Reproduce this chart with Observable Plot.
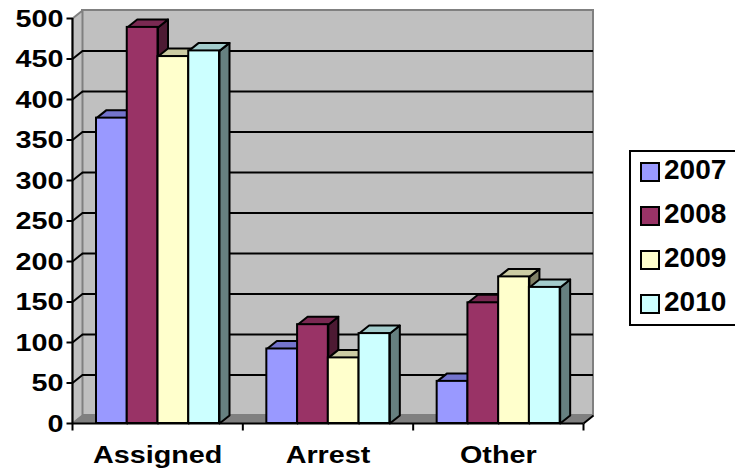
<!DOCTYPE html>
<html>
<head>
<meta charset="utf-8">
<script src="https://cdn.jsdelivr.net/npm/d3@7"></script>
<script src="https://cdn.jsdelivr.net/npm/@observablehq/plot@0.6"></script>
<style>
  html, body { margin: 0; padding: 0; background: white; overflow: hidden; }
  #wrap { position: relative; width: 735px; height: 473px; overflow: hidden; font-family: "Liberation Sans", Arial, sans-serif; }
  #legend { position: absolute; left: 629px; top: 150px; width: 140px; height: 176px; border: 2px solid black; background: white; box-sizing: border-box; }
  .item { position: absolute; left: 9px; height: 30px; }
  .sw { position: absolute; left: 0; top: 0; width: 20px; height: 20px; border: 2px solid black; box-sizing: border-box; }
  .lab { position: absolute; left: 24px; top: -9px; font-size: 28px; font-weight: bold; line-height: 34px; color: black; white-space: nowrap; }
</style>
</head>
<body>
<div id="wrap">
  <div id="chart"></div>
  <div id="legend"></div>
</div>
<script>
// ---- data ----
const categories = ["Assigned", "Arrest", "Other"];
const years = ["2007", "2008", "2009", "2010"];
const v2007 = [377, 92, 52];
const v2008 = [489, 122, 149];
const v2009 = [453, 81, 181];
const v2010 = [460, 111, 168];
const yTicks = [0, 50, 100, 150, 200, 250, 300, 350, 400, 450, 500];
const gridTicks = [50, 100, 150, 200, 250, 300, 350, 400, 450];

// ---- styles ----
const frontColors = ["#9999ff", "#993366", "#ffffcc", "#ccffff"];
const topColors   = ["#7373cc", "#7a2952", "#cccca3", "#a3cccc"];
const sideColors  = ["#4d4d80", "#4d1a33", "#808066", "#668080"];

const series = [v2007, v2008, v2009, v2010];

// ---- layout ----
const W = 735, H = 473;
const mL = 72, mR = 152, mT = 18, mB = 50;
const xMax = categories.length;
const yMax = 500;
const pxX = (W - mL - mR) / xMax;
const pxY = (H - mT - mB) / yMax;
const ox = 10 / pxX, oy = 8 / pxY;       // 3D depth offset in data units
const groupPad = 24 / pxX, barW = 30.75 / pxX;

const rows = [];
categories.forEach((c, i) => {
  years.forEach((yr, j) => {
    const x1 = i + groupPad + j * barW;
    rows.push({cat: c, year: yr, j, x1, x2: x1 + barW, v: series[j][i]});
  });
});

const poly = (pts, fill, stroke = "black", sw = 2) =>
  Plot.line(pts, {x: "x", y: "y", fill, stroke, strokeWidth: sw, curve: "linear-closed", strokeLinejoin: "round"});

const marks = [];
// back wall
marks.push(Plot.rect([{}], {x1: ox, x2: xMax + ox, y1: oy, y2: yMax + oy, fill: "#c0c0c0", stroke: "#808080", strokeWidth: 2}));
// left wall
marks.push(poly([{x: 0, y: 0}, {x: ox, y: oy}, {x: ox, y: yMax + oy}, {x: 0, y: yMax}], "#c0c0c0", "#808080", 2));
// floor
marks.push(poly([{x: 0, y: 0}, {x: xMax, y: 0}, {x: xMax + ox, y: oy}, {x: ox, y: oy}], "#808080", "#808080", 1));
// gridlines
marks.push(Plot.ruleY(gridTicks, {y: d => d + oy, x1: ox, x2: xMax + ox, stroke: "black", strokeWidth: 2}));
marks.push(Plot.link(gridTicks, {x1: 0, y1: d => d, x2: ox, y2: d => d + oy, stroke: "black", strokeWidth: 2}));

// side faces
rows.forEach(r => {
  marks.push(poly([{x: r.x2, y: 0}, {x: r.x2 + ox, y: oy}, {x: r.x2 + ox, y: r.v + oy}, {x: r.x2, y: r.v}], sideColors[r.j]));
});
// top faces
rows.forEach(r => {
  marks.push(poly([{x: r.x1, y: r.v}, {x: r.x2, y: r.v}, {x: r.x2 + ox, y: r.v + oy}, {x: r.x1 + ox, y: r.v + oy}], topColors[r.j]));
});
// front faces
years.forEach((yr, j) => {
  marks.push(Plot.rect(rows.filter(r => r.j === j), {x1: "x1", x2: "x2", y1: 0, y2: "v", fill: frontColors[j], stroke: "black", strokeWidth: 2}));
});

// axes
marks.push(Plot.ruleX([0], {y1: 0, y2: yMax, stroke: "black", strokeWidth: 2}));
marks.push(Plot.ruleY([0], {x1: 0, x2: xMax, stroke: "black", strokeWidth: 2}));
marks.push(Plot.link([0], {x1: xMax, y1: 0, x2: xMax + ox, y2: oy, stroke: "black", strokeWidth: 2}));
marks.push(Plot.link(yTicks, {x1: 0, x2: -6 / pxX, y1: d => d, y2: d => d, stroke: "black", strokeWidth: 2}));
marks.push(Plot.link(d3.range(xMax + 1), {x1: d => d, x2: d => d, y1: 0, y2: -7 / pxY, stroke: "black", strokeWidth: 2}));
marks.push(Plot.text(yTicks, {x: 0, y: d => d, text: d => String(d), textAnchor: "end", dx: -9, dy: 1, fontSize: 23, fontWeight: "bold", fill: "black"}));
marks.push(Plot.text(categories, {x: (d, i) => i + 0.5, y: 0, text: d => d, dy: 32, fontSize: 23, fontWeight: "bold", fill: "black"}));

const svg = Plot.plot({
  width: W, height: H,
  marginLeft: mL, marginRight: mR, marginTop: mT, marginBottom: mB,
  x: {domain: [0, xMax], axis: null},
  y: {domain: [0, yMax], axis: null},
  style: {background: "white", fontFamily: "Liberation Sans, Arial, sans-serif", overflow: "visible"},
  marks
});
document.getElementById("chart").append(svg);

// stretch axis labels horizontally as in the original rendering
svg.querySelectorAll("text").forEach(t => {
  const w = t.getComputedTextLength();
  t.setAttribute("textLength", w * 1.25);
  t.setAttribute("lengthAdjust", "spacingAndGlyphs");
});

// legend
const legend = document.getElementById("legend");
years.forEach((yr, j) => {
  const item = document.createElement("div");
  item.className = "item";
  item.style.top = (10 + j * 44) + "px";
  const sw = document.createElement("div");
  sw.className = "sw";
  sw.style.background = frontColors[j];
  const lab = document.createElement("div");
  lab.className = "lab";
  lab.textContent = yr;
  item.append(sw, lab);
  legend.append(item);
});
</script>
</body>
</html>
